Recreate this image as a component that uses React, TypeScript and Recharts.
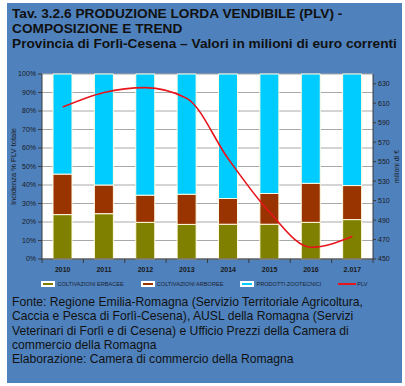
import { ComposedChart, Bar, Line, XAxis, YAxis, CartesianGrid, Legend } from 'recharts';

const years = ['2010', '2011', '2012', '2013', '2014', '2015', '2016', '2.017'];
// quote % sulla PLV totale
const erbacee = [24, 24.5, 19.8, 18.7, 18.8, 18.8, 19.8, 21.3];
const arboree = [21.9, 15.5, 14.7, 16.3, 13.9, 16.6, 21.1, 18.4];
const zootecnici = [54.1, 60, 65.5, 65, 67.3, 64.6, 59.1, 60.3];
// PLV in milioni di euro
const plv = [606, 621, 626, 615, 553, 498, 462, 473];

const pctTicks = [0, 10, 20, 30, 40, 50, 60, 70, 80, 90, 100];
const euroTicks = [450, 470, 490, 510, 530, 550, 570, 590, 610, 630];
const seriesOrder = ['erbacee', 'arboree', 'zootecnici', 'plv'];

const data = years.map((year, i) => ({
  year,
  erbacee: erbacee[i],
  arboree: arboree[i],
  zootecnici: zootecnici[i],
  plv: plv[i]
}));

const PANEL = '#4F81BD';
const AXIS = '#3a3a3a';
const FONT = 'Arial, "Liberation Sans", sans-serif';

const YearTick = (props: any) => {
  const { x, y, payload, width, visibleTicksCount, index } = props;
  const half = width && visibleTicksCount ? width / visibleTicksCount / 2 : 0;
  return (
    <g>
      {half > 0 && <line x1={x - half} x2={x - half} y1={y} y2={y + 4} stroke={AXIS} />}
      {half > 0 && index === visibleTicksCount - 1 && (
        <line x1={x + half} x2={x + half} y1={y} y2={y + 4} stroke={AXIS} />
      )}
      <text
        x={x}
        y={y + 13}
        textAnchor="middle"
        fill="#1a1a1a"
        style={{ fontFamily: FONT, fontSize: 7, fontWeight: 'bold' }}
      >
        {payload.value}
      </text>
    </g>
  );
};

const renderLegend = (props: any) => {
  const payload = [...(props.payload || [])].sort(
    (a: any, b: any) => seriesOrder.indexOf(a.dataKey) - seriesOrder.indexOf(b.dataKey)
  );
  return (
    <div style={{ display: 'flex', justifyContent: 'center', alignItems: 'center', gap: 17 }}>
      {payload.map((entry: any) => (
        <div key={entry.value} style={{ display: 'flex', alignItems: 'center' }}>
          {entry.type === 'line' ? (
            <div style={{ width: 18, height: 2, background: entry.color, marginRight: 1 }} />
          ) : (
            <div
              style={{
                width: 10,
                height: 2,
                background: entry.color,
                border: '2px solid #fff',
                marginRight: 2
              }}
            />
          )}
          <span style={{ fontFamily: FONT, fontSize: 5.6, color: '#1c2433', whiteSpace: 'nowrap' }}>
            {entry.value}
          </span>
        </div>
      ))}
    </div>
  );
};

const App = () => {
  return (
    <div
      style={{
        position: 'absolute',
        left: 0,
        top: 0,
        width: 405,
        height: 386,
        background: '#fff',
        overflow: 'hidden'
      }}
    >
      <div style={{ position: 'absolute', left: 7, top: 3, width: 395, height: 380, background: PANEL }} />
      <div
        style={{
          position: 'absolute',
          left: 12,
          top: 6,
          fontFamily: FONT,
          fontWeight: 'bold',
          fontSize: 13.7,
          lineHeight: '15px',
          color: '#111',
          whiteSpace: 'nowrap'
        }}
      >
        Tav. 3.2.6 PRODUZIONE LORDA VENDIBILE (PLV) -<br />
        COMPOSIZIONE E TREND<br />
        Provincia di Forlì-Cesena – Valori in milioni di euro correnti
      </div>

      <div style={{ position: 'absolute', left: 7, top: 60 }}>
        <ComposedChart
          width={395}
          height={240}
          data={data}
          margin={{ top: 14, right: 0, bottom: 23, left: 0 }}
        >
          <CartesianGrid yAxisId="pct" vertical={false} stroke="#a8a8a8" fill="#fff" />
          <XAxis
            dataKey="year"
            height={18}
            axisLine={{ stroke: AXIS }}
            tickLine={false}
            tickSize={0}
            tickMargin={0}
            interval={0}
            tick={<YearTick />}
          />
          <YAxis
            yAxisId="pct"
            width={35}
            domain={[0, 100]}
            ticks={pctTicks}
            interval={0}
            tickFormatter={(v: number) => `${v}%`}
            axisLine={{ stroke: AXIS }}
            tickLine={{ stroke: AXIS }}
            tickSize={4}
            tickMargin={2}
            tick={{ fill: '#1a1a1a', fontSize: 7, fontFamily: FONT }}
            label={{
              value: 'Incidenza % PLV totale',
              angle: -90,
              position: 'insideLeft',
              offset: 6,
              style: { textAnchor: 'middle', fontSize: 7.5, fontFamily: FONT, fill: '#1a1a1a' }
            }}
          />
          <YAxis
            yAxisId="eur"
            orientation="right"
            width={29}
            domain={[450, 640]}
            ticks={euroTicks}
            interval={0}
            allowDataOverflow
            axisLine={{ stroke: AXIS }}
            tickLine={{ stroke: AXIS }}
            tickSize={3}
            tickMargin={2}
            tick={{ fill: '#1a1a1a', fontSize: 7, fontFamily: FONT }}
            label={{
              value: 'milioni di €',
              angle: -90,
              position: 'insideRight',
              offset: 5,
              style: { textAnchor: 'middle', fontSize: 7, fontFamily: FONT, fill: '#1a1a1a' }
            }}
          />
          <Legend
            verticalAlign="middle"
            layout="horizontal"
            wrapperStyle={{ top: 221, left: 0, width: 395 }}
            content={renderLegend}
          />
          <Bar
            yAxisId="pct"
            dataKey="erbacee"
            name="COLTIVAZIONI ERBACEE"
            stackId="a"
            barSize={19}
            fill="#808000"
            stroke="#fffbe0"
            strokeWidth={1}
            isAnimationActive={false}
          />
          <Bar
            yAxisId="pct"
            dataKey="arboree"
            name="COLTIVAZIONI ARBOREE"
            stackId="a"
            barSize={19}
            fill="#993300"
            stroke="#fffbe0"
            strokeWidth={1}
            isAnimationActive={false}
          />
          <Bar
            yAxisId="pct"
            dataKey="zootecnici"
            name="PRODOTTI ZOOTECNICI"
            stackId="a"
            barSize={19}
            fill="#00CCFF"
            stroke="#fffbe0"
            strokeWidth={1}
            isAnimationActive={false}
          />
          <Line
            yAxisId="eur"
            type="monotone"
            dataKey="plv"
            name="PLV"
            stroke="#e8141c"
            strokeWidth={1.6}
            dot={false}
            legendType="line"
            isAnimationActive={false}
          />
        </ComposedChart>
      </div>

      <div
        style={{
          position: 'absolute',
          left: 12,
          top: 295,
          fontFamily: FONT,
          fontSize: 13.5,
          lineHeight: '14.3px',
          color: '#111',
          whiteSpace: 'nowrap',
          transform: 'scaleX(0.9)',
          transformOrigin: 'left top'
        }}
      >
        Fonte: Regione Emilia-Romagna (Servizio Territoriale Agricoltura,<br />
        Caccia e Pesca di Forlì-Cesena), AUSL della Romagna (Servizi<br />
        Veterinari di Forlì e di Cesena) e Ufficio Prezzi della Camera di<br />
        commercio della Romagna<br />
        Elaborazione: Camera di commercio della Romagna
      </div>
    </div>
  );
};

export default App;
